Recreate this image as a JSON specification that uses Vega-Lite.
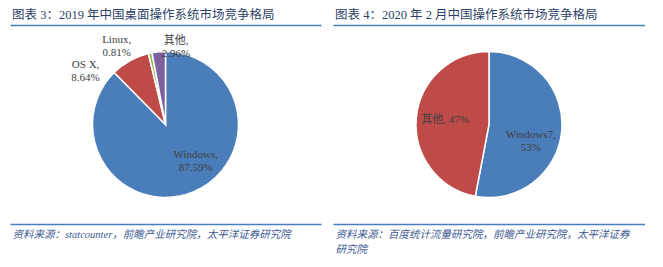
{
  "$schema": "https://vega.github.io/schema/vega-lite/v6.json",
  "padding": {"left": 10, "top": 8, "right": 0, "bottom": 0},
  "spacing": 12,
  "background": "white",
  "config": {
    "view": {"stroke": null},
    "axis": {"domainColor": "#4A7EBB", "domainWidth": 1.5, "ticks": false, "labels": false, "grid": false},
    "title": {"font": "Liberation Serif, Noto Sans CJK SC", "fontSize": 12.5, "fontWeight": "normal", "color": "#2E3F66", "anchor": "start", "offset": 4, "dx": 2},
    "text": {"font": "Liberation Serif, Noto Sans CJK SC", "fontSize": 11, "color": "#404040", "lineBreak": "\n", "lineHeight": 13, "align": "center", "baseline": "middle"}
  },
  "datasets": {
    "desk": [
      {"name": "Windows", "value": 87.59, "rank": 1, "label": "Windows,\n87.59%"},
      {"name": "OS X", "value": 8.64, "rank": 2, "label": "OS X,\n8.64%"},
      {"name": "Linux", "value": 0.81, "rank": 3, "label": "Linux,\n0.81%"},
      {"name": "其他", "value": 2.96, "rank": 4, "label": "其他,\n2.96%"}
    ],
    "feb": [
      {"name": "Windows7", "value": 53, "rank": 1, "label": "Windows7,\n53%"},
      {"name": "其他", "value": 47, "rank": 2, "label": "其他, 47%"}
    ]
  },
  "resolve": {"scale": {"color": "independent", "x": "independent", "theta": "independent"}},
  "hconcat": [
    {
      "width": 311,
      "height": 199,
      "title": {"text": "图表 3：2019 年中国桌面操作系统市场竞争格局"},
      "data": {"name": "desk"},
      "encoding": {
        "theta": {"field": "value", "type": "quantitative", "stack": true},
        "order": {"field": "rank", "type": "quantitative"},
        "color": {"field": "name", "type": "nominal", "legend": null,
          "scale": {"domain": ["Windows", "OS X", "Linux", "其他"], "range": ["#4A7EBB", "#BE4B48", "#98B954", "#7D60A0"]}}
      },
      "layer": [
        {
          "mark": {"type": "arc", "outerRadius": 73, "stroke": "white", "strokeWidth": 1.5},
          "encoding": {"x": {"datum": 0.5, "type": "quantitative", "scale": {"domain": [0, 1]}, "axis": {"orient": "top", "title": null}}}
        },
        {
          "mark": {"type": "text", "radius": 40, "dx": 15, "dy": -6},
          "encoding": {
            "x": {"datum": 0.5, "type": "quantitative", "scale": {"domain": [0, 1]},
              "axis": {"orient": "bottom", "title": "资料来源：statcounter，前瞻产业研究院，太平洋证券研究院", "titleAnchor": "start", "titleAlign": "left", "titleX": 2, "titleBaseline": "top", "titlePadding": 5, "titleFont": "Liberation Serif, Noto Sans CJK SC", "titleFontStyle": "italic", "titleFontWeight": "normal", "titleFontSize": 10.5, "titleColor": "#3C5B94"}},
            "text": {"condition": {"test": "datum.name === 'Windows'", "field": "label"}, "value": ""},
            "color": {"value": "#404040"}
          }
        },
        {
          "mark": {"type": "text", "radius": 80, "dx": -41, "dy": 10},
          "encoding": {"text": {"condition": {"test": "datum.name === 'OS X'", "field": "label"}, "value": ""}, "color": {"value": "#404040"}}
        },
        {
          "mark": {"type": "text", "radius": 85, "dx": -31, "dy": -1},
          "encoding": {"text": {"condition": {"test": "datum.name === 'Linux'", "field": "label"}, "value": ""}, "color": {"value": "#404040"}}
        },
        {
          "mark": {"type": "text", "radius": 80, "dx": 18, "dy": -4},
          "encoding": {"text": {"condition": {"test": "datum.name === '其他'", "field": "label"}, "value": ""}, "color": {"value": "#404040"}}
        }
      ],
      "resolve": {"scale": {"x": "independent"}, "axis": {"x": "independent"}}
    },
    {
      "width": 312,
      "height": 199,
      "title": {"text": "图表 4：2020 年 2 月中国操作系统市场竞争格局"},
      "data": {"name": "feb"},
      "encoding": {
        "theta": {"field": "value", "type": "quantitative", "stack": true},
        "order": {"field": "rank", "type": "quantitative"},
        "color": {"field": "name", "type": "nominal", "legend": null,
          "scale": {"domain": ["Windows7", "其他"], "range": ["#4A7EBB", "#BE4B48"]}}
      },
      "layer": [
        {
          "mark": {"type": "arc", "outerRadius": 73, "stroke": "white", "strokeWidth": 1.5},
          "encoding": {"x": {"datum": 0.5, "type": "quantitative", "scale": {"domain": [0, 1]}, "axis": {"orient": "top", "title": null}}}
        },
        {
          "mark": {"type": "text", "radius": 44, "dx": -2, "dy": 6},
          "encoding": {
            "x": {"datum": 0.5, "type": "quantitative", "scale": {"domain": [0, 1]},
              "axis": {"orient": "bottom", "title": ["资料来源：百度统计流量研究院，前瞻产业研究院，太平洋证券", "研究院"], "titleAnchor": "start", "titleAlign": "left", "titleX": 2, "titleBaseline": "top", "titlePadding": 5, "titleLineHeight": 15, "titleFont": "Liberation Serif, Noto Sans CJK SC", "titleFontStyle": "italic", "titleFontWeight": "normal", "titleFontSize": 10.5, "titleColor": "#3C5B94"}},
            "text": {"condition": {"test": "datum.name === 'Windows7'", "field": "label"}, "value": ""},
            "color": {"value": "#404040"}
          }
        },
        {
          "mark": {"type": "text", "radius": 44, "dx": 0, "dy": 0},
          "encoding": {"text": {"condition": {"test": "datum.name === '其他'", "field": "label"}, "value": ""}, "color": {"value": "#404040"}}
        }
      ],
      "resolve": {"scale": {"x": "independent"}, "axis": {"x": "independent"}}
    }
  ]
}
